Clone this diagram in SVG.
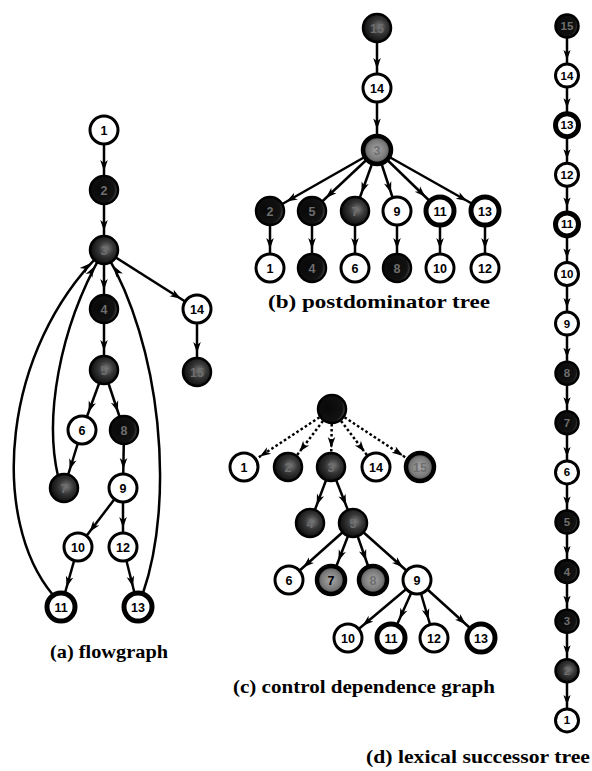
<svg xmlns="http://www.w3.org/2000/svg" width="592" height="771" viewBox="0 0 592 771">
<style>
.e{stroke:#000;stroke-width:2.5;fill:none}
.m{marker-end:url(#ah)}
.mt{marker-end:url(#ahT)}
.md{marker-end:url(#ahD)}
.mdt{marker-end:url(#ahDT)}
.dash{stroke-dasharray:2.6 2.4}
.w{fill:#fff;stroke:#000;stroke-width:3}
.t{fill:#fff;stroke:#000;stroke-width:5}
.k{fill:url(#gk);stroke:#000;stroke-width:2.5}
.s{fill:url(#gs);stroke:#000;stroke-width:2.5}
.g{fill:url(#gg);stroke:#000;stroke-width:4.5}
.n{font-family:"Liberation Sans",Arial,sans-serif;font-weight:bold;font-size:12.5px;text-anchor:middle;fill:#000}
.sm{font-size:11.5px}
.nd{fill:#6e6e6e}
.cap{font-family:"Liberation Serif","Times New Roman",serif;font-weight:bold;font-size:19px;fill:#000}
</style>
<defs>
<marker id="ah" markerUnits="userSpaceOnUse" markerWidth="12" markerHeight="8" refX="19" refY="0" orient="auto" overflow="visible">
<path d="M-11,-3.8 L0,0 L-11,3.8 L-8,0 z" fill="#000"/>
</marker>
<marker id="ahT" markerUnits="userSpaceOnUse" markerWidth="12" markerHeight="8" refX="20.5" refY="0" orient="auto" overflow="visible">
<path d="M-11,-3.8 L0,0 L-11,3.8 L-8,0 z" fill="#000"/>
</marker>
<marker id="ahD" markerUnits="userSpaceOnUse" markerWidth="12" markerHeight="8" refX="15.5" refY="0" orient="auto" overflow="visible">
<path d="M-10,-3.6 L0,0 L-10,3.6 L-7.5,0 z" fill="#000"/>
</marker>
<marker id="ahDT" markerUnits="userSpaceOnUse" markerWidth="12" markerHeight="8" refX="17" refY="0" orient="auto" overflow="visible">
<path d="M-10,-3.6 L0,0 L-10,3.6 L-7.5,0 z" fill="#000"/>
</marker>
<radialGradient id="gk" cx="0.32" cy="0.45" r="0.78">
<stop offset="0" stop-color="#080808"/><stop offset="0.7" stop-color="#121212"/><stop offset="0.88" stop-color="#555"/><stop offset="1" stop-color="#888"/>
</radialGradient>
<radialGradient id="gs" cx="0.58" cy="0.45" r="0.6">
<stop offset="0" stop-color="#7a7a7a"/><stop offset="0.45" stop-color="#363636"/><stop offset="1" stop-color="#0a0a0a"/>
</radialGradient>
<radialGradient id="gg" cx="0.5" cy="0.5" r="0.5">
<stop offset="0" stop-color="#a8a8a8"/><stop offset="0.7" stop-color="#777"/><stop offset="1" stop-color="#404040"/>
</radialGradient>
</defs>

<g id="connectors">
<!-- (a) flowgraph -->
<line class="e m" x1="104" y1="130" x2="104" y2="190"/>
<line class="e m" x1="104" y1="190" x2="104" y2="250"/>
<line class="e m" x1="104" y1="250" x2="104" y2="309"/>
<line class="e m" x1="104" y1="250" x2="197" y2="309"/>
<line class="e m" x1="104" y1="309" x2="104" y2="370"/>
<line class="e m" x1="197" y1="309" x2="197" y2="372"/>
<line class="e m" x1="104" y1="370" x2="82" y2="430"/>
<line class="e m" x1="104" y1="370" x2="124" y2="430"/>
<line class="e m" x1="82" y1="430" x2="64" y2="488"/>
<line class="e m" x1="124" y1="430" x2="123" y2="488"/>
<line class="e m" x1="123" y1="488" x2="78" y2="547"/>
<line class="e m" x1="123" y1="488" x2="123" y2="547"/>
<line class="e mt" x1="78" y1="547" x2="61" y2="607"/>
<line class="e mt" x1="123" y1="547" x2="138" y2="607"/>
<path class="e m" d="M53,595 C-10,520 0,350 104,250"/>
<path class="e m" d="M58,476 C45,420 57,331 104,250"/>
<path class="e m" d="M143,593 C175,500 162,345 104,250"/>
<!-- (b) postdominator tree -->
<line class="e m" x1="377" y1="28" x2="377" y2="88"/>
<line class="e mt" x1="377" y1="88" x2="377" y2="150"/>
<line class="e m" x1="377" y1="150" x2="270" y2="211"/>
<line class="e m" x1="377" y1="150" x2="312" y2="211"/>
<line class="e m" x1="377" y1="150" x2="355" y2="211"/>
<line class="e m" x1="377" y1="150" x2="397" y2="211"/>
<line class="e mt" x1="377" y1="150" x2="440" y2="211"/>
<line class="e mt" x1="377" y1="150" x2="485" y2="211"/>
<line class="e m" x1="270" y1="211" x2="270" y2="268"/>
<line class="e m" x1="312" y1="211" x2="312" y2="268"/>
<line class="e m" x1="355" y1="211" x2="355" y2="268"/>
<line class="e m" x1="397" y1="211" x2="397" y2="268"/>
<line class="e m" x1="440" y1="211" x2="440" y2="268"/>
<line class="e m" x1="485" y1="211" x2="485" y2="268"/>
<!-- (c) control dependence graph -->
<line class="e m dash" x1="332" y1="409" x2="244" y2="467"/>
<line class="e m dash" x1="332" y1="409" x2="288" y2="467"/>
<line class="e m dash" x1="332" y1="409" x2="331" y2="467"/>
<line class="e m dash" x1="332" y1="409" x2="376" y2="467"/>
<line class="e mt dash" x1="332" y1="409" x2="420" y2="467"/>
<line class="e m" x1="331" y1="467" x2="310" y2="523"/>
<line class="e m" x1="331" y1="467" x2="353" y2="523"/>
<line class="e m" x1="353" y1="523" x2="289" y2="580"/>
<line class="e mt" x1="353" y1="523" x2="331" y2="580"/>
<line class="e mt" x1="353" y1="523" x2="373" y2="580"/>
<line class="e m" x1="353" y1="523" x2="417" y2="580"/>
<line class="e m" x1="417" y1="580" x2="348" y2="638"/>
<line class="e mt" x1="417" y1="580" x2="391" y2="638"/>
<line class="e m" x1="417" y1="580" x2="434" y2="638"/>
<line class="e mt" x1="417" y1="580" x2="481" y2="638"/>
<!-- (d) lexical successor tree -->
<line class="e md" x1="567" y1="26" x2="567" y2="75.6"/>
<line class="e mdt" x1="567" y1="75.6" x2="567" y2="125.2"/>
<line class="e md" x1="567" y1="125.2" x2="567" y2="174.8"/>
<line class="e mdt" x1="567" y1="174.8" x2="567" y2="224.4"/>
<line class="e md" x1="567" y1="224.4" x2="567" y2="274"/>
<line class="e md" x1="567" y1="274" x2="567" y2="323.6"/>
<line class="e md" x1="567" y1="323.6" x2="567" y2="373.2"/>
<line class="e md" x1="567" y1="373.2" x2="567" y2="422.8"/>
<line class="e md" x1="567" y1="422.8" x2="567" y2="472.4"/>
<line class="e md" x1="567" y1="472.4" x2="567" y2="522"/>
<line class="e md" x1="567" y1="522" x2="567" y2="571.6"/>
<line class="e md" x1="567" y1="571.6" x2="567" y2="621.2"/>
<line class="e md" x1="567" y1="621.2" x2="567" y2="670.8"/>
<line class="e md" x1="567" y1="670.8" x2="567" y2="720.4"/>
</g>

<!-- (a) flowgraph nodes -->
<g id="a1"><circle class="w" cx="104" cy="130" r="14"/><text class="n" x="104" y="134.5">1</text></g>
<g id="a2"><circle class="k" cx="104" cy="190" r="14"/><text class="n nd" x="104" y="194.5">2</text></g>
<g id="a3"><circle class="s" cx="104" cy="250" r="14"/><text class="n nd" x="104" y="254.5">3</text></g>
<g id="a4"><circle class="k" cx="104" cy="309" r="14"/><text class="n nd" x="104" y="313.5">4</text></g>
<g id="a5"><circle class="s" cx="104" cy="370" r="14"/><text class="n nd" x="104" y="374.5">5</text></g>
<g id="a14"><circle class="w" cx="197" cy="309" r="14"/><text class="n" x="197" y="313.5">14</text></g>
<g id="a15"><circle class="s" cx="197" cy="372" r="14"/><text class="n nd" x="197" y="376.5">15</text></g>
<g id="a6"><circle class="w" cx="82" cy="430" r="14"/><text class="n" x="82" y="434.5">6</text></g>
<g id="a8"><circle class="k" cx="124" cy="430" r="14"/><text class="n nd" x="124" y="434.5">8</text></g>
<g id="a7"><circle class="s" cx="64" cy="488" r="14"/><text class="n nd" x="64" y="492.5">7</text></g>
<g id="a9"><circle class="w" cx="123" cy="488" r="14"/><text class="n" x="123" y="492.5">9</text></g>
<g id="a10"><circle class="w" cx="78" cy="547" r="14"/><text class="n" x="78" y="551.5">10</text></g>
<g id="a12"><circle class="w" cx="123" cy="547" r="14"/><text class="n" x="123" y="551.5">12</text></g>
<g id="a11"><circle class="t" cx="61" cy="607" r="14"/><text class="n" x="61" y="611.5">11</text></g>
<g id="a13"><circle class="t" cx="138" cy="607" r="14"/><text class="n" x="138" y="611.5">13</text></g>
<text class="cap" x="50" y="658" textLength="118" lengthAdjust="spacingAndGlyphs">(a) flowgraph</text>

<!-- (b) postdominator tree nodes -->
<g id="b15"><circle class="s" cx="377" cy="28" r="14"/><text class="n nd" x="377" y="32.5">15</text></g>
<g id="b14"><circle class="w" cx="377" cy="88" r="14"/><text class="n" x="377" y="92.5">14</text></g>
<g id="b3"><circle class="g" cx="377" cy="150" r="14"/><text class="n nd" x="377" y="154.5">3</text></g>
<g id="b2"><circle class="k" cx="270" cy="211" r="14"/><text class="n nd" x="270" y="215.5">2</text></g>
<g id="b5"><circle class="k" cx="312" cy="211" r="14"/><text class="n nd" x="312" y="215.5">5</text></g>
<g id="b7"><circle class="s" cx="355" cy="211" r="14"/><text class="n nd" x="355" y="215.5">7</text></g>
<g id="b9"><circle class="w" cx="397" cy="211" r="14"/><text class="n" x="397" y="215.5">9</text></g>
<g id="b11"><circle class="t" cx="440" cy="211" r="14"/><text class="n" x="440" y="215.5">11</text></g>
<g id="b13"><circle class="t" cx="485" cy="211" r="14"/><text class="n" x="485" y="215.5">13</text></g>
<g id="b1"><circle class="w" cx="270" cy="268" r="14"/><text class="n" x="270" y="272.5">1</text></g>
<g id="b4"><circle class="k" cx="312" cy="268" r="14"/><text class="n nd" x="312" y="272.5">4</text></g>
<g id="b6"><circle class="w" cx="355" cy="268" r="14"/><text class="n" x="355" y="272.5">6</text></g>
<g id="b8"><circle class="k" cx="397" cy="268" r="14"/><text class="n nd" x="397" y="272.5">8</text></g>
<g id="b10"><circle class="w" cx="440" cy="268" r="14"/><text class="n" x="440" y="272.5">10</text></g>
<g id="b12"><circle class="w" cx="485" cy="268" r="14"/><text class="n" x="485" y="272.5">12</text></g>
<text class="cap" x="268" y="308" textLength="222" lengthAdjust="spacingAndGlyphs">(b) postdominator tree</text>

<!-- (c) control dependence graph nodes -->
<g id="c0"><circle class="k" cx="332" cy="409" r="14"/></g>
<g id="c1"><circle class="w" cx="244" cy="467" r="14"/><text class="n" x="244" y="471.5">1</text></g>
<g id="c2"><circle class="s" cx="288" cy="467" r="14"/><text class="n nd" x="288" y="471.5">2</text></g>
<g id="c3"><circle class="s" cx="331" cy="467" r="14"/><text class="n nd" x="331" y="471.5">3</text></g>
<g id="c14"><circle class="w" cx="376" cy="467" r="14"/><text class="n" x="376" y="471.5">14</text></g>
<g id="c15"><circle class="g" cx="420" cy="467" r="14"/><text class="n nd" x="420" y="471.5">15</text></g>
<g id="c4"><circle class="s" cx="310" cy="523" r="14"/><text class="n nd" x="310" y="527.5">4</text></g>
<g id="c5"><circle class="s" cx="353" cy="523" r="14"/><text class="n nd" x="353" y="527.5">5</text></g>
<g id="c6"><circle class="w" cx="289" cy="580" r="14"/><text class="n" x="289" y="584.5">6</text></g>
<g id="c7"><circle class="g" cx="331" cy="580" r="14"/><text class="n" x="331" y="584.5">7</text></g>
<g id="c8"><circle class="g" cx="373" cy="580" r="14"/><text class="n nd" x="373" y="584.5">8</text></g>
<g id="c9"><circle class="w" cx="417" cy="580" r="14"/><text class="n" x="417" y="584.5">9</text></g>
<g id="c10"><circle class="w" cx="348" cy="638" r="14"/><text class="n" x="348" y="642.5">10</text></g>
<g id="c11"><circle class="t" cx="391" cy="638" r="14"/><text class="n" x="391" y="642.5">11</text></g>
<g id="c12"><circle class="w" cx="434" cy="638" r="14"/><text class="n" x="434" y="642.5">12</text></g>
<g id="c13"><circle class="t" cx="481" cy="638" r="14"/><text class="n" x="481" y="642.5">13</text></g>
<text class="cap" x="233" y="693" textLength="262" lengthAdjust="spacingAndGlyphs">(c) control dependence graph</text>

<!-- (d) lexical successor tree nodes -->
<g id="d15"><circle class="k" cx="567" cy="26" r="11.5"/><text class="n sm nd" x="567" y="30">15</text></g>
<g id="d14"><circle class="w" cx="567" cy="75.6" r="11.5"/><text class="n sm" x="567" y="79.6">14</text></g>
<g id="d13"><circle class="t" cx="567" cy="125.2" r="11.5"/><text class="n sm" x="567" y="129.2">13</text></g>
<g id="d12"><circle class="w" cx="567" cy="174.8" r="11.5"/><text class="n sm" x="567" y="178.8">12</text></g>
<g id="d11"><circle class="t" cx="567" cy="224.4" r="11.5"/><text class="n sm" x="567" y="228.4">11</text></g>
<g id="d10"><circle class="w" cx="567" cy="274" r="11.5"/><text class="n sm" x="567" y="278">10</text></g>
<g id="d9"><circle class="w" cx="567" cy="323.6" r="11.5"/><text class="n sm" x="567" y="327.6">9</text></g>
<g id="d8"><circle class="k" cx="567" cy="373.2" r="11.5"/><text class="n sm nd" x="567" y="377.2">8</text></g>
<g id="d7"><circle class="k" cx="567" cy="422.8" r="11.5"/><text class="n sm nd" x="567" y="426.8">7</text></g>
<g id="d6"><circle class="w" cx="567" cy="472.4" r="11.5"/><text class="n sm" x="567" y="476.4">6</text></g>
<g id="d5"><circle class="k" cx="567" cy="522" r="11.5"/><text class="n sm nd" x="567" y="526">5</text></g>
<g id="d4"><circle class="k" cx="567" cy="571.6" r="11.5"/><text class="n sm nd" x="567" y="575.6">4</text></g>
<g id="d3"><circle class="k" cx="567" cy="621.2" r="11.5"/><text class="n sm nd" x="567" y="625.2">3</text></g>
<g id="d2"><circle class="s" cx="567" cy="670.8" r="11.5"/><text class="n sm nd" x="567" y="674.8">2</text></g>
<g id="d1"><circle class="w" cx="567" cy="720.4" r="11.5"/><text class="n sm" x="567" y="724.4">1</text></g>
<text class="cap" x="366" y="763" textLength="224" lengthAdjust="spacingAndGlyphs">(d) lexical successor tree</text>
</svg>
